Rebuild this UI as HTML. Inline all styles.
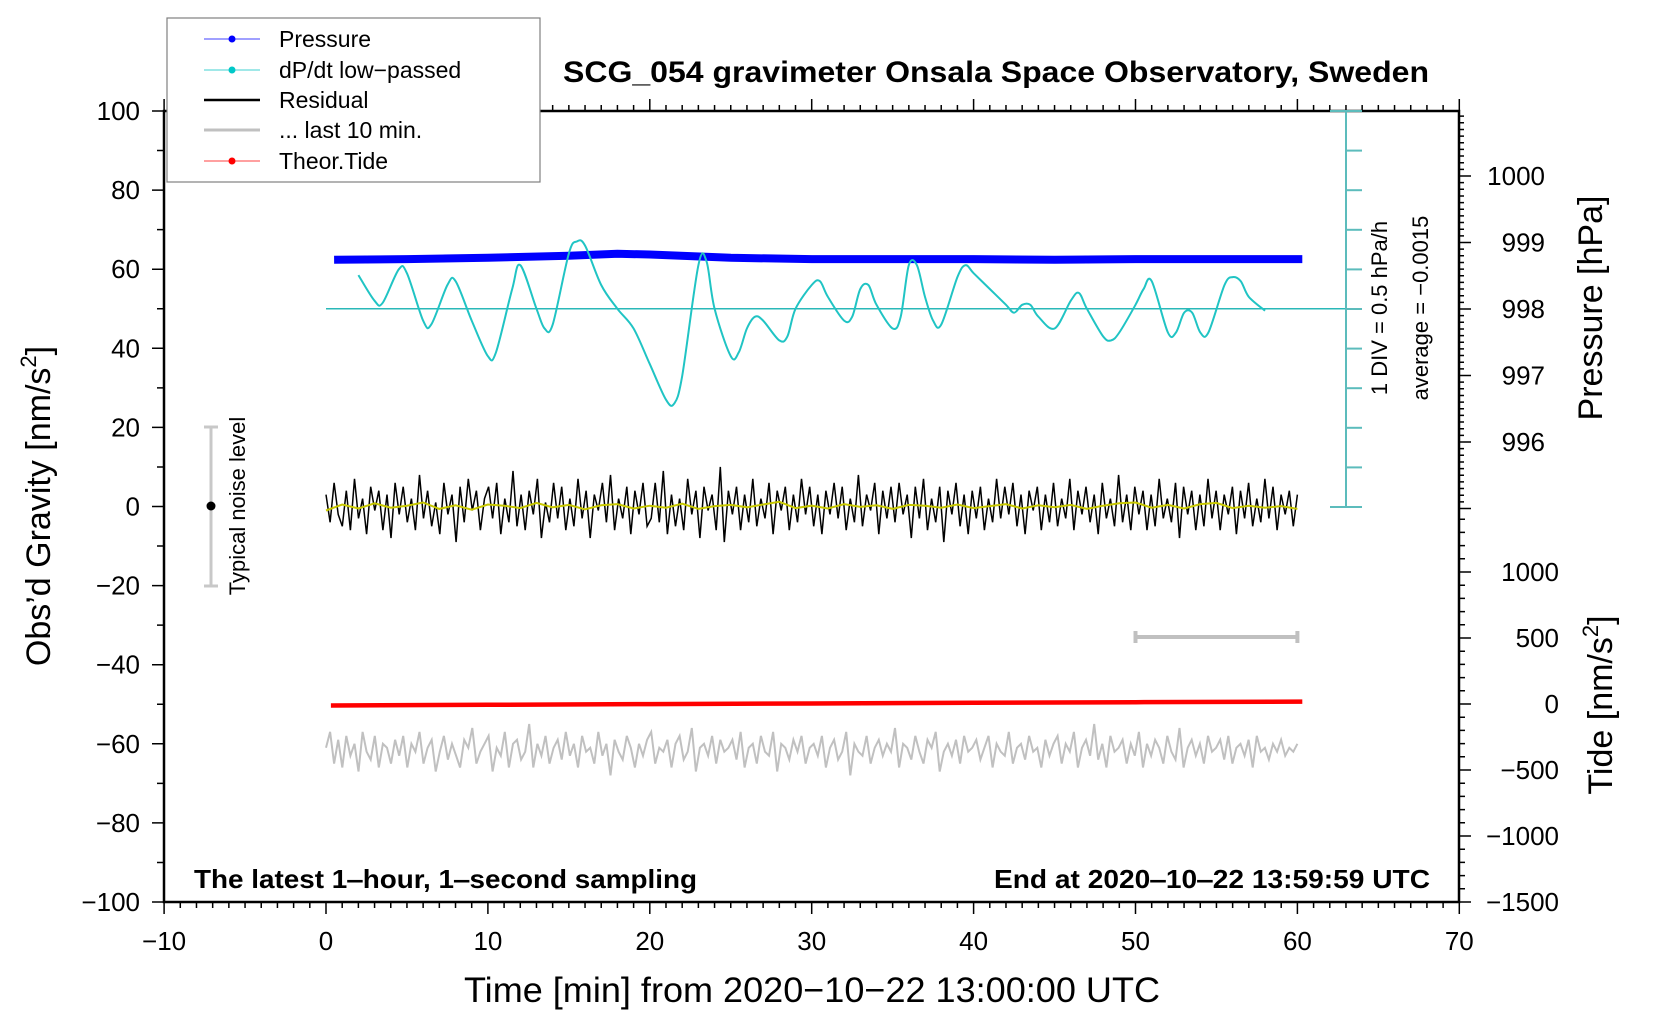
<!DOCTYPE html>
<html><head><meta charset="utf-8"><style>
html,body{margin:0;padding:0;background:#fff;}
svg{display:block;font-family:"Liberation Sans",sans-serif;}
</style></head><body>
<svg id="chart" width="1660" height="1020" viewBox="0 0 1660 1020" xmlns="http://www.w3.org/2000/svg">
<rect width="1660" height="1020" fill="#fff"/>
<g id="series"></g>
<g id="axes"></g>
<rect x="164" y="111" width="1295" height="791" fill="none" stroke="#000" stroke-width="2.5"/>
<text x="563" y="82" font-size="30" font-weight="bold" textLength="866" lengthAdjust="spacingAndGlyphs">SCG_054 gravimeter Onsala Space Observatory, Sweden</text>
<text x="194" y="888" font-size="26" font-weight="bold" textLength="503" lengthAdjust="spacingAndGlyphs">The latest 1‒hour, 1‒second sampling</text>
<text x="994" y="888" font-size="26" font-weight="bold" textLength="436" lengthAdjust="spacingAndGlyphs">End at 2020‒10‒22 13:59:59 UTC</text>
<text x="812" y="1002" font-size="35" text-anchor="middle" textLength="696" lengthAdjust="spacingAndGlyphs">Time [min] from 2020−10−22 13:00:00 UTC</text>
<text transform="translate(50,506) rotate(-90)" font-size="34" text-anchor="middle">Obs’d Gravity [nm/s<tspan font-size="22" dy="-14">2</tspan><tspan dy="14">]</tspan></text>
<text transform="translate(1602,308) rotate(-90)" font-size="34" text-anchor="middle">Pressure [hPa]</text>
<text transform="translate(1612,705) rotate(-90)" font-size="34" text-anchor="middle">Tide [nm/s<tspan font-size="22" dy="-14">2</tspan><tspan dy="14">]</tspan></text>
<g>
<line x1="211" y1="427" x2="211" y2="586" stroke="#c8c8c8" stroke-width="3"/>
<line x1="204" y1="427" x2="218" y2="427" stroke="#c8c8c8" stroke-width="3"/>
<line x1="204" y1="586" x2="218" y2="586" stroke="#c8c8c8" stroke-width="3"/>
<circle cx="211" cy="506" r="4.5" fill="#000"/>
<text transform="translate(245,506) rotate(-90)" font-size="22" text-anchor="middle">Typical noise level</text>
</g>
<g id="scalebar" stroke="#5cbcbc" stroke-width="2"></g>
<text transform="translate(1387,308) rotate(-90)" font-size="22" text-anchor="middle">1 DIV = 0.5 hPa/h</text>
<text transform="translate(1428,308) rotate(-90)" font-size="22" text-anchor="middle">average = −0.0015</text>
<g>
<rect x="167" y="18" width="373" height="164" fill="#fff" stroke="#808080" stroke-width="1.2"/>
<g><line x1="204" y1="39" x2="260" y2="39" stroke="#4040ff" stroke-width="1"/><circle cx="232" cy="39" r="3.5" fill="#0000ff"/><text x="279" y="47" font-size="23">Pressure</text></g>
<g><line x1="204" y1="70" x2="260" y2="70" stroke="#40d0d0" stroke-width="1"/><circle cx="232" cy="70" r="3.5" fill="#00c8c8"/><text x="279" y="78" font-size="23">dP/dt low−passed</text></g>
<g><line x1="204" y1="100" x2="260" y2="100" stroke="#000" stroke-width="2.5"/><text x="279" y="108" font-size="23">Residual</text></g>
<g><line x1="204" y1="130" x2="260" y2="130" stroke="#c0c0c0" stroke-width="3"/><text x="279" y="138" font-size="23">... last 10 min.</text></g>
<g><line x1="204" y1="161" x2="260" y2="161" stroke="#ff4040" stroke-width="1"/><circle cx="232" cy="161" r="3.5" fill="#ff0000"/><text x="279" y="169" font-size="23">Theor.Tide</text></g>
</g>
</svg>
<script>
// ---- data ----
const pressureTimes = [0.5,5,10,15,18,20,25,30,35,40,45,50,55,60.3];
const pressureHPa = [998.74,998.75,998.77,998.80,998.83,998.82,998.77,998.75,998.75,998.75,998.74,998.75,998.75,998.75];
const dpdtTimes = [2,3,3.5,4.5,5,6,6.5,7.5,8,9,10,10.5,11.5,12,13,13.5,14,15,15.5,16,17,18,19,20,21,21.5,22,23,23.5,24,25,25.5,26,26.5,27,28,28.5,29,30,30.5,31,32,32.5,33,33.5,34,35,35.5,36,36.5,37,37.5,38,39,39.5,40,41,42,42.5,43,43.5,44,45,46,46.5,47,48,48.5,49,50,50.5,51,52,52.5,53,53.5,54,54.5,55.5,56,56.5,57,58];
const dpdtValues = [0.425,0.1,0.075,0.5,0.45,-0.15,-0.2,0.3,0.35,-0.15,-0.6,-0.55,0.25,0.55,0,-0.25,-0.2,0.7,0.85,0.8,0.3,0,-0.25,-0.7,-1.15,-1.2,-0.85,0.55,0.6,0,-0.6,-0.55,-0.25,-0.1,-0.15,-0.4,-0.35,0,0.3,0.35,0.15,-0.15,-0.1,0.25,0.3,0.05,-0.25,-0.1,0.55,0.55,0.15,-0.15,-0.2,0.4,0.55,0.45,0.25,0.05,-0.05,0.05,0.05,-0.1,-0.25,0.1,0.2,0,-0.35,-0.4,-0.3,0.05,0.25,0.35,-0.3,-0.3,-0.05,-0.05,-0.3,-0.3,0.3,0.4,0.35,0.15,-0.025];
const residualValues = [3,-4,6,-2,-5,4,-6,7,-3,2,-7,5,-1,4,-6,3,-8,6,-2,5,
-4,2,-6,8,-3,4,-5,1,-7,6,-2,3,-9,5,-4,7,-1,4,-6,2,
5,-3,6,-7,2,-4,9,-5,3,-6,4,-2,7,-8,1,-4,6,-3,5,-6,
2,-5,7,-3,4,-8,3,-1,6,-4,8,-6,2,-3,5,-7,4,-2,6,-5,
-3,6,-4,9,-7,3,-5,2,-6,7,-2,4,-8,5,-1,3,-6,10,-9,4,
-2,5,-6,3,-4,7,-5,2,-3,6,-7,4,-1,5,-6,3,-4,7,-2,5,
-5,3,-7,4,-2,6,-3,5,-6,2,-4,8,-5,3,-1,6,-7,4,-3,5,
-4,6,-2,3,-8,5,-3,7,-6,2,-4,5,-9,4,-2,6,-5,3,-7,4,
-3,5,-6,2,-4,7,-3,5,-2,6,-5,3,-7,4,-1,5,-6,3,-4,6,
-5,2,-3,7,-6,4,-2,5,-4,3,-7,6,-3,2,-5,8,-4,3,-6,5,
-2,4,-6,3,-5,7,-3,2,-4,6,-8,5,-2,4,-6,3,-5,7,-3,4,
-6,3,-2,5,-7,4,-3,6,-5,2,-4,7,-3,5,-6,3,-2,4,-5,3];
const smoothValues = [-1,0.5,-0.5,0.8,-0.3,0.2,1,-0.6,0.3,-0.8,0.5,0.2,-0.4,0.9,-0.2,0.4,-0.7,0.3,0.6,-0.5,0.2,-0.3,0.7,-0.6,0.1,0.4,-0.2,0.5,1.2,-0.4,0.2,-0.5,0.6,-0.1,0.3,-0.6,0.4,0.2,-0.3,0.5,-0.4,0.1,0.6,-0.5,0.3,-0.2,0.4,-0.6,0.2,0.8,1,-0.3,0.4,-0.5,0.6,0.9,-0.4,0.2,-0.3,0.1,-0.6];
const last10Values = [-61,-57,-65,-59,-66,-58,-63,-60,-67,-57,-62,-64,-58,-66,-60,-61,-65,-59,-63,-58,
-66,-60,-62,-57,-65,-61,-59,-67,-62,-58,-64,-60,-63,-66,-59,-61,-56,-65,-62,-60,
-58,-67,-61,-63,-57,-66,-60,-59,-64,-62,-55,-66,-60,-63,-58,-65,-61,-59,-64,-57,
-63,-60,-66,-58,-62,-61,-65,-57,-63,-60,-68,-59,-62,-64,-58,-61,-66,-60,-63,-59,
-57,-65,-61,-62,-59,-66,-60,-58,-64,-62,-56,-67,-61,-60,-63,-58,-65,-59,-62,-61,
-59,-64,-57,-66,-61,-60,-65,-58,-62,-63,-57,-67,-60,-61,-64,-59,-62,-58,-65,-61,
-60,-63,-58,-66,-61,-59,-64,-62,-57,-68,-60,-62,-63,-58,-65,-61,-59,-63,-60,-62,
-56,-66,-60,-61,-64,-58,-62,-65,-59,-61,-57,-67,-62,-60,-63,-59,-65,-58,-62,-61,
-59,-64,-61,-58,-66,-60,-62,-63,-57,-65,-61,-60,-64,-58,-62,-61,-66,-59,-63,-60,
-58,-65,-60,-62,-57,-66,-61,-59,-63,-55,-64,-60,-66,-58,-62,-61,-59,-65,-60,-63,
-57,-66,-60,-63,-59,-61,-65,-58,-62,-64,-56,-66,-61,-59,-63,-60,-65,-58,-62,-61,
-59,-64,-58,-65,-61,-60,-63,-59,-66,-58,-62,-61,-64,-60,-62,-59,-63,-61,-62,-60];
const tideTimes = [0.3,10,20,30,40,50,60.3];
const tideValues = [-11,-6,-1,4,9,14,18];
const xTicks = [-10,0,10,20,30,40,50,60,70];
const gravTicks = [100,80,60,40,20,0,-20,-40,-60,-80,-100];
const pressTicks = [1000,999,998,997,996];
const tideTicks = [1000,500,0,-500,-1000,-1500];

// ---- axis functions ----
const X = t => 326 + t*16.19;
const Y = g => 111 + (100-g)*3.955;
const YP = p => 309 - (p-998)*66.5;
const YT = v => 704 - v*0.132;
const YD = d => Y(50 + d*20);
const NS = "http://www.w3.org/2000/svg";
const series = document.getElementById('series');
const axes = document.getElementById('axes');
function mk(tag, attrs, parent){const e=document.createElementNS(NS,tag);for(const k in attrs)e.setAttribute(k,attrs[k]);parent.appendChild(e);return e;}
function pts(xs, ys){return xs.map((x,i)=>X(x).toFixed(1)+','+ys[i].toFixed(1)).join(' ');}
function smoothPath(xs, ys){
  const P = xs.map((x,i)=>[X(x), ys[i]]);
  let s = `M${P[0][0].toFixed(1)},${P[0][1].toFixed(1)}`;
  for(let i=0;i<P.length-1;i++){
    const p0=P[Math.max(0,i-1)], p1=P[i], p2=P[i+1], p3=P[Math.min(P.length-1,i+2)];
    const c1=[p1[0]+(p2[0]-p0[0])/6, p1[1]+(p2[1]-p0[1])/6];
    const c2=[p2[0]-(p3[0]-p1[0])/6, p2[1]-(p3[1]-p1[1])/6];
    s += `C${c1[0].toFixed(1)},${c1[1].toFixed(1)} ${c2[0].toFixed(1)},${c2[1].toFixed(1)} ${p2[0].toFixed(1)},${p2[1].toFixed(1)}`;
  }
  return s;
}

// last 10 min gray
let tg = last10Values.map((v,i)=>i*60/(last10Values.length-1));
let e = mk('polyline',{points:pts(tg,last10Values.map(Y)),fill:'none',stroke:'#c0c0c0','stroke-width':2},series);


// 10-min bar
e = mk('path',{d:`M${X(50)},${Y(-33)}H${X(60)}M${X(50)},${Y(-33)-6}v12M${X(60)},${Y(-33)-6}v12`,stroke:'#c0c0c0','stroke-width':4,fill:'none'},series);


// residual
let tr = residualValues.map((v,i)=>i*60/(residualValues.length-1));
e = mk('polyline',{points:pts(tr,residualValues.map(Y)),fill:'none',stroke:'#000','stroke-width':1.5},series);


let ts = smoothValues.map((v,i)=>i);
e = mk('polyline',{points:pts(ts,smoothValues.map(Y)),fill:'none',stroke:'#c8c800','stroke-width':2},series);


// tide
e = mk('polyline',{points:pts(tideTimes,tideValues.map(YT)),fill:'none',stroke:'#ff0000','stroke-width':4.5},series);


// pressure
e = mk('polyline',{points:pts(pressureTimes,pressureHPa.map(YP)),fill:'none',stroke:'#0000ff','stroke-width':8},series);


// average line
e = mk('line',{x1:X(0),y1:YD(0),x2:1362,y2:YD(0),stroke:'#2ab8b8','stroke-width':1.5},series);


// dpdt
e = mk('path',{d:smoothPath(dpdtTimes,dpdtValues.map(YD)),fill:'none',stroke:'#20c4c4','stroke-width':2,'stroke-linejoin':'round'},series);



// scale bar
const sb = document.getElementById('scalebar');
mk('line',{x1:1346,y1:111,x2:1346,y2:507},sb);
mk('line',{x1:1330,y1:111,x2:1362,y2:111},sb);
mk('line',{x1:1330,y1:507,x2:1362,y2:507},sb);
for(let k=1;k<10;k++){mk('line',{x1:1346,y1:111+k*39.6,x2:1362,y2:111+k*39.6},sb);}

// x ticks
let d='';
for(let t=-10;t<=70;t++){const L=(t%10===0)?12:6;d+=`M${X(t)},902v${L}M${X(t)},111v${-L}`;}
xTicks.forEach(t=>{
  const tx=mk('text',{x:X(t),y:950,'font-size':26,'text-anchor':'middle'},axes);
  tx.textContent=String(t).replace('-','−');
  
  
});
// gravity ticks
for(let g=-100;g<=100;g+=10){const L=(g%20===0)?12:7;d+=`M164,${Y(g)}h${-L}`;}
gravTicks.forEach(g=>{
  const tx=mk('text',{x:140,y:Y(g)+9,'font-size':26,'text-anchor':'end'},axes);
  tx.textContent=String(g).replace('-','−');
  
  
});
// pressure ticks
for(let k=0;k<=59;k++){const p=1000.9-k*0.1;const y=YP(p);if(y<111)continue;const isMaj=Math.abs(p-Math.round(p))<0.01;d+=`M1459,${y}h${isMaj?12:5}`;}
pressTicks.forEach(p=>{
  const tx=mk('text',{x:1545,y:YP(p)+9,'font-size':26,'text-anchor':'end'},axes);
  tx.textContent=String(p);
  
  
});
// tide ticks
for(let v=-1500;v<=1400;v+=100){d+=`M1459,${YT(v)}h${v%500===0?12:6}`;}
tideTicks.forEach(v=>{
  const tx=mk('text',{x:1559,y:YT(v)+9,'font-size':26,'text-anchor':'end'},axes);
  tx.textContent=String(v).replace('-','−');
  
  
});
e = mk('path',{d:d,stroke:'#000','stroke-width':1.5,fill:'none'},axes);


</script>
</body></html>
